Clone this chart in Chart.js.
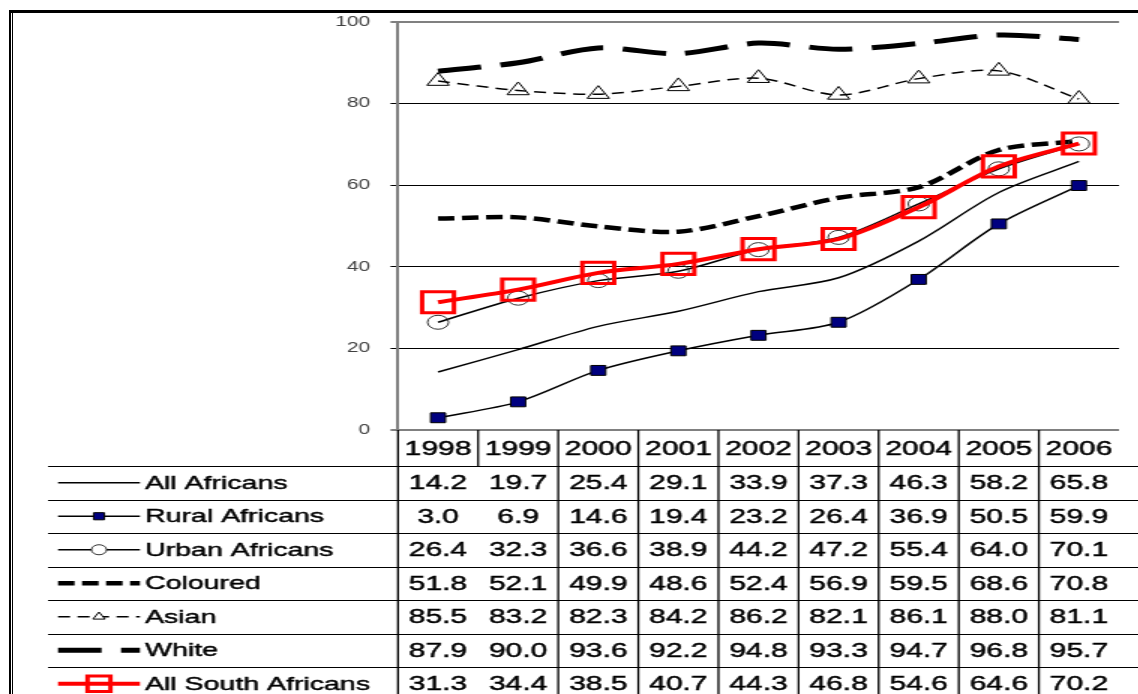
<!DOCTYPE html>
<html>
<head>
<meta charset="utf-8">
<script src="https://cdn.jsdelivr.net/npm/chart.js@4/dist/chart.umd.min.js"></script>
<style>
  html, body { margin: 0; padding: 0; background: #fff; overflow: hidden; }
  #wrap { position: relative; width: 1138px; height: 694px; overflow: hidden; background: #fff; }
  /* canvas is drawn narrow and stretched sideways, like the reference */
  #chart { position: absolute; left: 0; top: 0; }
  .frame { position: absolute; background: #000; }
</style>
</head>
<body>
<div id="wrap">
  <canvas id="chart" width="764" height="694" style="width:1146px;height:694px"></canvas>
  <div class="frame" style="left:9px; top:10px; right:0; height:3px;"></div>
  <div class="frame" style="left:9px; top:10px; bottom:0; width:2px;"></div>
  <div class="frame" style="left:12px; top:10px; bottom:0; width:1px;"></div>
</div>
<script>
// Données
const years = ['1998', '1999', '2000', '2001', '2002', '2003', '2004', '2005', '2006'];
const allAfricans = [14.2, 19.7, 25.4, 29.1, 33.9, 37.3, 46.3, 58.2, 65.8];
const ruralAfricans = [3.0, 6.9, 14.6, 19.4, 23.2, 26.4, 36.9, 50.5, 59.9];
const urbanAfricans = [26.4, 32.3, 36.6, 38.9, 44.2, 47.2, 55.4, 64.0, 70.1];
const coloured = [51.8, 52.1, 49.9, 48.6, 52.4, 56.9, 59.5, 68.6, 70.8];
const asian = [85.5, 83.2, 82.3, 84.2, 86.2, 82.1, 86.1, 88.0, 81.1];
const white = [87.9, 90.0, 93.6, 92.2, 94.8, 93.3, 94.7, 96.8, 95.7];
const allSouthAfricans = [31.3, 34.4, 38.5, 40.7, 44.3, 46.8, 54.6, 64.6, 70.2];
const yMin = 0, yMax = 100, yStep = 20;

const FONT = '"Liberation Sans", Arial, sans-serif';

const datasets = [
  { label: 'All Africans', data: allAfricans, borderColor: '#000', borderWidth: 1.5,
    pointRadius: 0, order: 1 },
  { label: 'Rural Africans', data: ruralAfricans, borderColor: '#000', borderWidth: 1.5,
    pointStyle: 'rect', pointRadius: 7, pointBackgroundColor: '#000080',
    pointBorderColor: '#000', pointBorderWidth: 1, order: 1 },
  { label: 'Urban Africans', data: urbanAfricans, borderColor: '#000', borderWidth: 1.5,
    pointStyle: 'circle', pointRadius: 7, pointBackgroundColor: 'rgba(0,0,0,0)',
    pointBorderColor: '#333', pointBorderWidth: 1, order: 1 },
  { label: 'Coloured', data: coloured, borderColor: '#000', borderWidth: 4.5,
    borderDash: [11, 5], pointRadius: 0, order: 1 },
  { label: 'Asian', data: asian, borderColor: '#000', borderWidth: 1.5,
    borderDash: [8, 5], pointStyle: 'triangle', pointRadius: 8.5,
    pointBackgroundColor: 'rgba(0,0,0,0)', pointBorderColor: '#000', pointBorderWidth: 1, order: 1 },
  { label: 'White', data: white, borderColor: '#000', borderWidth: 5,
    borderDash: [29, 13], pointRadius: 0, order: 1 },
  { label: 'All South Africans', data: allSouthAfricans, borderColor: '#ff0000', borderWidth: 4,
    pointStyle: 'rect', pointRadius: 15, pointBackgroundColor: 'rgba(0,0,0,0)',
    pointBorderColor: '#ff0000', pointBorderWidth: 3, order: 0 }
];

function drawMarker(ctx, style, x, y, r) {
  ctx.beginPath();
  if (style === 'rect') {
    const s = r * Math.SQRT1_2;
    ctx.rect(x - s, y - s, 2 * s, 2 * s);
  } else if (style === 'circle') {
    ctx.arc(x, y, r, 0, Math.PI * 2);
  } else if (style === 'triangle') {
    for (let k = 0; k < 3; k++) {
      const a = k * 2 * Math.PI / 3;
      const px = x + Math.sin(a) * r, py = y - Math.cos(a) * r;
      k ? ctx.lineTo(px, py) : ctx.moveTo(px, py);
    }
    ctx.closePath();
  }
  ctx.fill();
  ctx.stroke();
}

// texte un peu plus épais, comme dans l'original
function heavyText(ctx, txt, x, y) {
  ctx.fillText(txt, x, y);
  ctx.strokeText(txt, x, y);
}

// Tableau de données sous le graphique
const dataTable = {
  id: 'dataTable',
  afterDraw(chart) {
    const ctx = chart.ctx;
    const xs = chart.scales.x;
    const area = chart.chartArea;
    const top = area.bottom;
    const headH = 36, rowH = 33.5;
    const legendLeft = 32;
    const step = (area.right - area.left) / years.length;
    const H = chart.height;

    ctx.save();
    ctx.strokeStyle = '#000';
    ctx.fillStyle = '#000';

    // lignes horizontales
    ctx.lineWidth = 1;
    for (let r = 0; r <= datasets.length; r++) {
      const y = Math.round(top + headH + r * rowH) + 0.5;
      ctx.beginPath();
      ctx.moveTo(legendLeft, y);
      ctx.lineTo(chart.width, y);
      ctx.stroke();
    }

    // lignes verticales
    ctx.lineWidth = 1.3;
    ctx.beginPath();
    ctx.moveTo(area.left, top);
    ctx.lineTo(area.left, H);
    for (let i = 1; i < years.length; i++) {
      const x = area.left + i * step;
      ctx.moveTo(x, top);
      ctx.lineTo(x, i === 1 ? top + headH : H);
    }
    ctx.stroke();

    // en-têtes (années)
    ctx.lineWidth = 0.45;
    ctx.textAlign = 'center';
    ctx.textBaseline = 'middle';
    ctx.font = '20px ' + FONT;
    years.forEach((yr, i) => {
      heavyText(ctx, yr, xs.getPixelForValue(i), top + headH / 2 + 1);
    });

    // lignes de séries
    datasets.forEach((ds, r) => {
      const cy = top + headH + r * rowH + rowH / 2 + 1;
      ctx.font = '20px ' + FONT;
      ctx.textAlign = 'center';
      ctx.fillStyle = '#000';
      ctx.strokeStyle = '#000';
      ctx.lineWidth = 0.45;
      ds.data.forEach((v, i) => {
        heavyText(ctx, v.toFixed(1), xs.getPixelForValue(i), cy);
      });

      // échantillon de légende
      ctx.save();
      ctx.strokeStyle = ds.borderColor;
      ctx.lineWidth = ds.borderWidth;
      ctx.setLineDash(ds.borderDash || []);
      ctx.beginPath();
      ctx.moveTo(38.7, cy - 1);
      ctx.lineTo(93.3, cy - 1);
      ctx.stroke();
      ctx.setLineDash([]);
      if (ds.pointRadius) {
        ctx.fillStyle = ds.pointBackgroundColor;
        ctx.strokeStyle = ds.pointBorderColor;
        ctx.lineWidth = ds.pointBorderWidth;
        const rr = ds.pointStyle === 'triangle' ? ds.pointRadius * 0.55 : ds.pointRadius * 0.72;
        if (ds.pointStyle === 'triangle' || ds.pointStyle === 'circle') {
          ctx.fillStyle = '#fff';
        }
        drawMarker(ctx, ds.pointStyle, 66, cy - 1, rr);
      }
      ctx.restore();

      ctx.fillStyle = '#000';
      ctx.strokeStyle = '#000';
      ctx.lineWidth = 0.45;
      ctx.textAlign = 'left';
      ctx.font = '19px ' + FONT;
      heavyText(ctx, ds.label, 96.7, cy);
    });
    ctx.restore();
  }
};

new Chart(document.getElementById('chart'), {
  type: 'line',
  data: { labels: years, datasets: datasets.map(d => Object.assign({ tension: 0.3, fill: false }, d)) },
  options: {
    responsive: false,
    animation: false,
    devicePixelRatio: 1,
    layout: { padding: { left: 0, right: 2, top: 20, bottom: 264 } },
    plugins: { legend: { display: false }, tooltip: { enabled: false } },
    scales: {
      x: { display: false, offset: true },
      y: {
        min: yMin, max: yMax,
        afterFit(scale) { scale.width = 265.33; },
        ticks: { stepSize: yStep, padding: 13.5, color: '#404040', font: { family: FONT, size: 14 } },
        grid: {
          color: c => (c.tick && (c.tick.value === yMin || c.tick.value === yMax)) ? '#808080' : '#000',
          lineWidth: c => (c.tick && (c.tick.value === yMin || c.tick.value === yMax)) ? 2 : 1,
          tickColor: '#000',
          tickLength: 5,
          tickWidth: 1
        },
        border: { color: '#808080', width: 2 }
      }
    }
  },
  plugins: [dataTable]
});
</script>
</body>
</html>
